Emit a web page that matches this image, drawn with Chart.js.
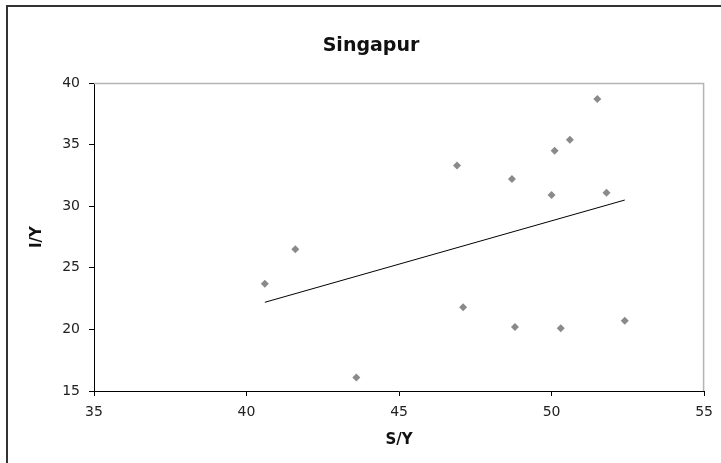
<!DOCTYPE html>
<html>
<head>
<meta charset="utf-8">
<script src="https://cdn.jsdelivr.net/npm/chart.js@4/dist/chart.umd.min.js"></script>
<style>
  html, body { margin: 0; padding: 0; background: #fff; }
  #wrap { width: 721px; height: 463px; position: relative; }
</style>
</head>
<body>
<div id="wrap"><canvas id="c" width="721" height="463"></canvas></div>
<script>
const chartTitle = "Singapur";
const xTitle = "S/Y";
const yTitle = "I/Y";
const sy = [40.6, 41.6, 43.6, 46.9, 47.1, 48.7, 48.8, 50.0, 50.1, 50.3, 50.6, 51.5, 51.8, 52.4];
const iy = [23.7, 26.5, 16.1, 33.3, 21.8, 32.2, 20.2, 30.9, 34.5, 20.1, 35.4, 38.7, 31.1, 20.7];
const trendX = [40.6, 52.4];
const trendY = [22.2, 30.5];
const xTicks = [35, 40, 45, 50, 55];
const yTicks = [15, 20, 25, 30, 35, 40];

const frame = {
  id: 'frame',
  afterLayout(chart) {
    if (chart.titleBlock) { chart.titleBlock.left = 36; }
  },
  beforeDraw(chart) {
    const ctx = chart.ctx;
    ctx.save();
    ctx.strokeStyle = '#333';
    ctx.lineWidth = 2;
    ctx.strokeRect(7, 6, 730, 470);
    ctx.restore();
  },
  beforeDatasetsDraw(chart) {
    const {ctx, chartArea: a} = chart;
    ctx.save();
    ctx.strokeStyle = '#b4b4b4';
    ctx.lineWidth = 1.5;
    ctx.beginPath();
    ctx.moveTo(a.left, a.top + 0.5);
    ctx.lineTo(a.right - 0.5, a.top + 0.5);
    ctx.lineTo(a.right - 0.5, a.bottom);
    ctx.stroke();
    ctx.restore();
  }
};

const fam = "'DejaVu Sans', Arial, sans-serif";
const font = { family: fam, size: 14 };

new Chart(document.getElementById('c'), {
  type: 'scatter',
  data: {
    datasets: [
      {
        data: sy.map((x, i) => ({ x, y: iy[i] })),
        pointStyle: 'rectRot',
        pointRadius: 4,
        backgroundColor: '#8a8a8a',
        borderColor: '#8a8a8a',
        borderWidth: 0
      },
      {
        data: trendX.map((x, i) => ({ x, y: trendY[i] })),
        showLine: true,
        pointRadius: 0,
        borderColor: '#000',
        borderWidth: 1
      }
    ]
  },
  options: {
    responsive: false,
    animation: false,
    layout: { padding: { left: 0, right: 15, top: 0, bottom: 0 } },
    plugins: {
      legend: { display: false },
      tooltip: { enabled: false },
      title: {
        display: true,
        text: chartTitle,
        color: '#111',
        font: { family: fam, size: 19, weight: 'bold' },
        padding: { top: 35, bottom: 25.2 }
      }
    },
    scales: {
      x: {
        type: 'linear',
        min: 35, max: 55,
        afterFit(s) { s.height = 72; },
        afterBuildTicks(s) { s.ticks = xTicks.map(v => ({ value: v })); },
        grid: { display: true, drawOnChartArea: false, drawTicks: true, tickLength: 5, color: '#000' },
        border: { display: true, color: '#000', width: 1 },
        ticks: { color: '#222', font, padding: 8, maxRotation: 0 },
        title: { display: true, text: xTitle, color: '#111', font: { family: fam, size: 15, weight: 'bold' }, padding: { top: 0, bottom: 14 } }
      },
      y: {
        type: 'linear',
        min: 15, max: 40,
        afterFit(s) { s.width = 94; },
        afterBuildTicks(s) { s.ticks = yTicks.map(v => ({ value: v })); },
        grid: { display: true, drawOnChartArea: false, drawTicks: true, tickLength: 5, color: '#000' },
        border: { display: true, color: '#000', width: 1 },
        ticks: { color: '#222', font, padding: 9 },
        title: { display: true, text: yTitle, color: '#111', font: { family: fam, size: 15, weight: 'bold' }, padding: { top: 28, bottom: 0 } }
      }
    }
  },
  plugins: [frame]
});
</script>
</body>
</html>
